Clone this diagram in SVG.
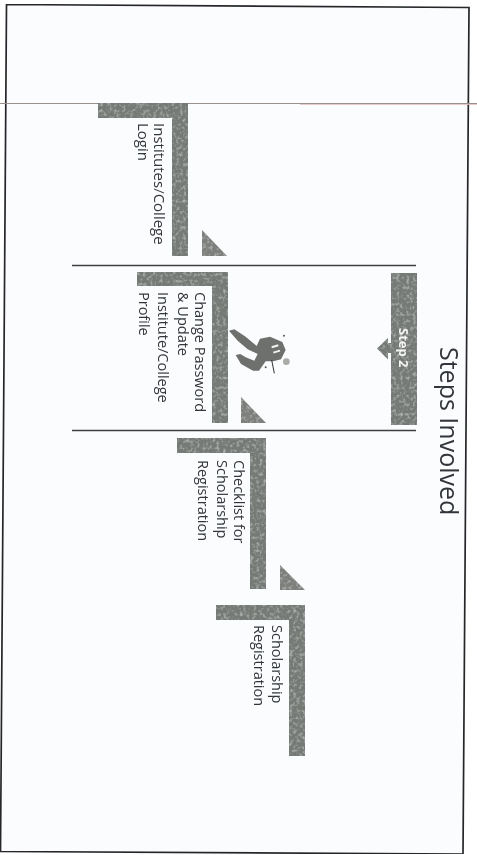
<svg xmlns="http://www.w3.org/2000/svg" width="477" height="855" viewBox="0 0 477 855">
<defs>
<filter id="speckle" x="0" y="0" width="100%" height="100%">
<feTurbulence type="fractalNoise" baseFrequency="0.3" numOctaves="2" seed="4" result="n"/>
<feColorMatrix in="n" type="matrix" values="0 0 0 0 0.66  0 0 0 0 0.68  0 0 0 0 0.66  1.4 0 0 0 -0.68" result="s"/>
<feComposite in="s" in2="SourceAlpha" operator="in" result="c"/>
<feMerge><feMergeNode in="SourceGraphic"/><feMergeNode in="c"/></feMerge>
</filter>
<filter id="soft" x="0" y="0" width="100%" height="100%"><feGaussianBlur stdDeviation="0.4"/></filter>
</defs>
<style>
.bar{fill:#767a76;filter:url(#speckle)}
.tri{fill:#7b7f7c;filter:url(#speckle)}
.ln{stroke:#3c3f3f;stroke-width:1.3;fill:none}
.t{font-family:"Open Sans","Noto Sans",sans-serif;font-size:14.5px;fill:#33363a}
</style>
<rect width="477" height="855" fill="#ffffff"/>
<g filter="url(#soft)">
<g id="frame"><path d="M6.500 4.500L469 7.500L463 854L0.500 851.500Z" fill="#fbfcfe" stroke="#26282a" stroke-width="1.700"/></g>
<path d="M0 103.500H477" stroke="#9a8f8d" stroke-width="1"/>
<path d="M300 104.500H477" stroke="#e3bdba" stroke-width="0.800"/>
<text class="t" transform="translate(440 347) rotate(90)" style="font-size:25px">Steps Involved</text>
<g id="connectors"><path class="ln" d="M72 265.500H416M72 430.500H416"/></g>
<g id="step2"><rect class="bar" x="391" y="273" width="26" height="152"/><path class="bar" d="M391 343V353H388V359.500L377 348.500L388 338V343Z"/><text transform="translate(399 328) rotate(90)" style="font-family:'Open Sans',sans-serif;font-size:13px;font-weight:700;fill:#f4f4f4">Step 2</text></g>
<g id="node1"><path class="bar" d="M98 103H188V256H172V118H98Z"/><path class="tri" d="M202 230V256H227Z"/><text class="t" transform="translate(154 123) rotate(90)" style="font-size:15px"><tspan x="0" y="0">Institutes/College</tspan><tspan x="0" y="16">Login</tspan></text></g>
<g id="node2"><path class="bar" d="M137 272H228V423H212V286H137Z"/><path class="tri" d="M241 397V423H266Z"/><text class="t" transform="translate(195 292) rotate(90)"><tspan x="0" y="0">Change Password</tspan><tspan x="0" y="17">&amp; Update</tspan><tspan x="0" y="37">Institute/College</tspan><tspan x="0" y="56">Profile</tspan></text></g>
<g id="runner" transform="translate(225 320) scale(.3333)"><path fill="#6d706c" d="M12 32L28 28L62 50L95 78L105 56L135 50L172 66L182 90L168 118L145 124L122 124L102 152L84 152L48 132L32 105L46 102L62 112L88 122L98 102L68 88L38 62Z"/><path d="M140 82L160 76M145 98L165 92" stroke="#f2f2f2" stroke-width="6" fill="none"/><path d="M140 120L148 160" stroke="#303030" stroke-width="3"/><circle cx="184" cy="125" r="10" fill="#a9aca9"/><circle cx="177" cy="47" r="3" fill="#555"/><circle cx="122" cy="142" r="3" fill="#555"/></g>
<g id="node3"><path class="bar" d="M177 438H266V589H250V453H177Z"/><path class="tri" d="M280 565V590H305Z"/><text class="t" transform="translate(234 460) rotate(90)"><tspan x="0" y="0">Checklist for</tspan><tspan x="0" y="17">Scholarship</tspan><tspan x="0" y="36">Registration</tspan></text></g>
<g id="node4"><path class="bar" d="M216 605H305V756H289V620H216Z"/><text class="t" transform="translate(272 625) rotate(90)"><tspan x="0" y="0">Scholarship</tspan><tspan x="0" y="18">Registration</tspan></text></g>
</g>
</svg>
